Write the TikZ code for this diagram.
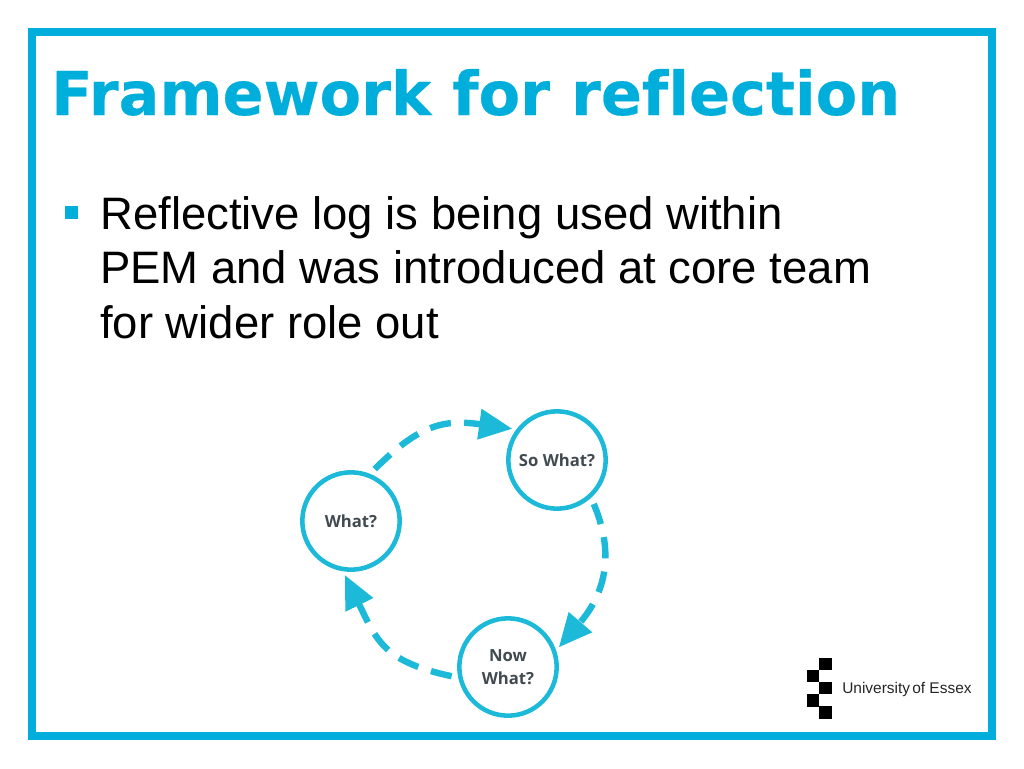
\documentclass[tikz,border=0pt]{standalone}
\usepackage{fontspec}
\setmainfont{Liberation Sans}
\newfontfamily\titlefont[Ligatures=NoCommon,BoldFeatures={FakeBold=0.35}]{DejaVu Sans}
\newfontfamily\labelfont{Open Sans}
\usetikzlibrary{arrows.meta}
\definecolor{framecol}{HTML}{00AEDB}
\definecolor{cyclecol}{HTML}{1CB9D8}
\definecolor{labelcol}{HTML}{404A50}
\tikzstyle{phase}=[draw=cyclecol,fill=white,circle,line width=3.4pt,minimum size=73pt,inner sep=0pt,align=center,text=labelcol,font=\labelfont\bfseries\fontsize{12.5}{17.5}\selectfont]
\tikzstyle{flow}=[draw=cyclecol,line width=4.8pt,dash pattern=on 16pt off 10pt,shorten <=5pt,shorten >=3pt,-{Triangle[length=25pt,width=22pt]}]
\tikzstyle{tile}=[fill=black,draw=none,minimum size=9.4pt,inner sep=0pt]
\begin{document}
\begin{tikzpicture}[x=0.75pt,y=-0.75pt]
\useasboundingbox (0,0) rectangle (1024,768);
\draw[framecol,line width=6pt] (32,32) rectangle (992,736);
\node (title) [anchor=base west,inner sep=0pt,text=framecol,font=\titlefont\bfseries\fontsize{45.4}{50}\selectfont] at (51,115) {Framework for reflection};
\node (bullet) [fill=framecol,minimum size=9.6pt,inner sep=0pt] at (71.5,212.5) {};
\node (log) [anchor=base west,inner sep=0pt,align=left,font=\fontsize{34.1}{40.9}\selectfont] at (100,338.5) {Reflective log is being used within\\PEM and was introduced at core team\\for wider role out};
\node (what) [phase] at (351,521) {What?};
\node (sowhat) [phase] at (557,460) {So What?};
\node (nowwhat) [phase] at (508,667) {Now\\What?};
\draw[flow] (what.68) to[out=45,in=172,looseness=1.2] (sowhat.143);
\draw[flow] (sowhat.-48) .. controls (620,565) and (596,604) .. (nowwhat.19);
\draw[flow] (nowwhat.192) to[out=168,in=-64,looseness=1.25] (what.-99);
\foreach \tx/\ty in {825.5/664,813/676,825.5/688,813/700.5,825.5/712.5}
  \node [tile] at (\tx,\ty) {};
\node (essex) [anchor=base west,inner sep=0pt,font=\fontsize{11.6}{14}\selectfont,text=black!85] at (842,693.5) {University\hspace{1.6pt}of Essex};
\end{tikzpicture}
\end{document}
